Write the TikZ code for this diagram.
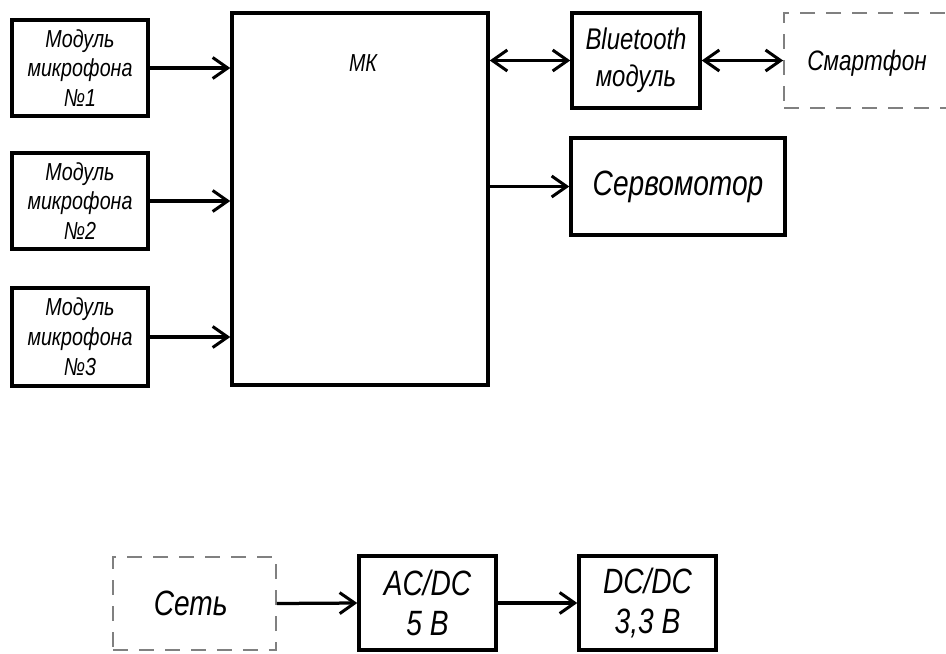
\documentclass[tikz,border=0pt]{standalone}
\usepackage{fontspec}
\setmainfont{Liberation Sans}[FakeStretch=0.8]
\usetikzlibrary{arrows.meta}

\begin{document}
\begin{tikzpicture}[
    x=0.02cm, y=-0.02cm,
    block/.style={draw=black, line width=0.07cm, fill=white, align=center, inner sep=1pt},
    extern/.style={draw=black!50, line width=0.035cm, dash pattern=on 0.3cm off 0.22cm, align=center, inner sep=1pt},
    txt/.style={font=\itshape\fontsize{14}{17}\selectfont},
    big/.style={font=\itshape\fontsize{20}{23}\selectfont},
    link/.style={line width=0.065cm, -{Straight Barb[length=0.3cm, width=0.42cm, line width=0.06cm]}},
    both/.style={link, {Straight Barb[length=0.3cm, width=0.42cm, line width=0.06cm]}-{Straight Barb[length=0.3cm, width=0.42cm, line width=0.06cm]}},
  ]

  % ---------------- page ----------------------------------------------------
  \clip (0,0) rectangle (946,653);

  % ---------------- microphones and controller ------------------------------
  \node[block, txt, minimum width=2.72cm, minimum height=1.92cm] (micA) at (80,68)  {Модуль\\микрофона\\№1};
  \node[block, txt, minimum width=2.72cm, minimum height=1.92cm] (micB) at (80,201) {Модуль\\микрофона\\№2};
  \node[block, txt, minimum width=2.72cm, minimum height=1.96cm] (micC) at (80,337) {Модуль\\микрофона\\№3};
  \node[block, minimum width=5.12cm, minimum height=7.44cm] (mk) at (360,199) {};
  \node[txt] (mklab) at ([yshift=-1.04cm, xshift=0.06cm]mk.north) {МК};

  % ---------------- outputs -------------------------------------------------
  \node[block, font=\itshape\fontsize{17}{21}\selectfont, minimum width=2.56cm, minimum height=1.9cm] (bt) at (636,60.5) {Bluetooth\\модуль};
  \node[extern, font=\itshape\fontsize{16}{20}\selectfont, minimum width=3.52cm, minimum height=1.9cm, text depth=0pt] (phone) at (872,60.5) {\hspace*{-0.2cm}Смартфон};
  \node[block, big, minimum width=4.28cm, minimum height=1.94cm] (servo) at (678,186.5) {Сервомотор};

  % ---------------- power supply --------------------------------------------
  \node[extern, big, minimum width=3.26cm, minimum height=1.86cm] (net) at (194.5,603.5) {\hspace*{-0.15cm}Сеть};
  \node[block, big, minimum width=2.74cm, minimum height=1.88cm] (acdc) at (427.5,603) {AC/DC\\5 B};
  \node[block, big, minimum width=2.74cm, minimum height=1.88cm] (dcdc) at (647.5,603) {DC/DC\\3,3 B};

  % ---------------- connections ---------------------------------------------
  \draw[link] (micA.east) -- (micA.east -| mk.west);
  \draw[link] (micB.east) -- (micB.east -| mk.west);
  \draw[link] (micC.east) -- (micC.east -| mk.west);
  \draw[both] (bt.west -| mk.east) -- (bt.west);
  \draw[both] (bt.east) -- (bt.east -| phone.west);
  \draw[link] (servo.west -| mk.east) -- (servo.west);
  \draw[link] (net.east) -- (acdc.west);
  \draw[link] (acdc.east) -- (dcdc.west);

\end{tikzpicture}
\end{document}
